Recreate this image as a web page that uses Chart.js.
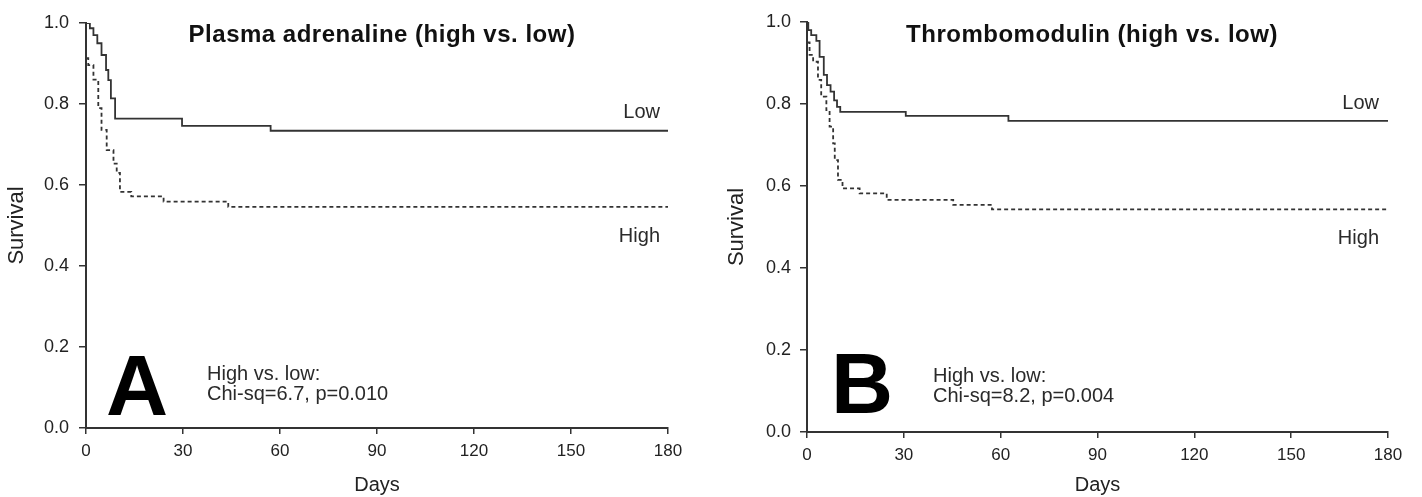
<!DOCTYPE html>
<html>
<head>
<meta charset="utf-8">
<title>Survival: plasma adrenaline / thrombomodulin</title>
<script src="https://cdn.jsdelivr.net/npm/chart.js@4.4.1/dist/chart.umd.min.js"></script>
<style>
  html, body { margin: 0; padding: 0; background: #fff; }
  #wrap { position: relative; width: 1422px; height: 497px; overflow: hidden; }
  canvas { position: absolute; top: 0; }
  #chartA { left: 0; }
  #chartB { left: 711px; }
</style>
</head>
<body>
<div id="wrap">
  <canvas id="chartA" width="711" height="497"></canvas>
  <canvas id="chartB" width="711" height="497"></canvas>
</div>
<script>
// -------------------------------------------------------------
// DATA
// -------------------------------------------------------------
const dayTicks = [0, 30, 60, 90, 120, 150, 180];
const survivalTicks = [0.0, 0.2, 0.4, 0.6, 0.8, 1.0];

// Panel A - plasma adrenaline
const adrenalineLowDays  = [0, 1.2, 2.3, 3.5, 4.8, 6.2, 6.9, 7.7, 9.0, 29.7, 57.1, 180];
const adrenalineLowSurv  = [1.0, 0.987, 0.97, 0.95, 0.921, 0.884, 0.859, 0.814, 0.764, 0.746, 0.734, 0.734];
const adrenalineHighDays = [0, 0.7, 2.3, 3.8, 4.8, 6.4, 8.5, 9.5, 10.5, 14, 24, 44, 180];
const adrenalineHighSurv = [0.913, 0.896, 0.86, 0.79, 0.736, 0.686, 0.653, 0.63, 0.583, 0.572, 0.559, 0.546, 0.546];

// Panel B - thrombomodulin
const thromboLowDays  = [0, 0.4, 1.3, 2.9, 3.9, 5.2, 6.2, 7.3, 8.4, 9.3, 10.3, 30.6, 62.4, 180];
const thromboLowSurv  = [1.0, 0.98, 0.968, 0.954, 0.915, 0.871, 0.846, 0.83, 0.809, 0.793, 0.781, 0.771, 0.759, 0.759];
const thromboHighDays = [0, 0.8, 1.9, 3.4, 4.4, 6.0, 7.0, 8.1, 8.6, 9.6, 11, 16.3, 24.7, 45.3, 57.3, 180];
const thromboHighSurv = [0.95, 0.92, 0.903, 0.859, 0.818, 0.785, 0.745, 0.704, 0.663, 0.615, 0.594, 0.582, 0.566, 0.554, 0.543, 0.543];

const FONT = '"Liberation Sans", Arial, sans-serif';
const INK = '#333';

function toPoints(days, surv) {
    return days.map((d, i) => ({ x: d, y: surv[i] }));
}

// -------------------------------------------------------------
// Text drawn inside the plot (title, curve labels, stats, letter)
// -------------------------------------------------------------
const panelText = {
    id: 'panelText',
    afterDraw(chart, args, o) {
        const ctx = chart.ctx;
        ctx.save();
        ctx.fillStyle = '#111';

        ctx.font = 'bold 24px ' + FONT;
        ctx.letterSpacing = '0.5px';
        ctx.textAlign = 'center';
        ctx.textBaseline = 'middle';
        ctx.fillText(o.title, o.titleX, o.titleY);
        ctx.letterSpacing = '0px';

        ctx.fillStyle = '#2a2a2a';
        ctx.font = '20px ' + FONT;
        ctx.textAlign = 'right';
        ctx.fillText('Low', o.labelRight, o.lowY);
        ctx.fillText('High', o.labelRight, o.highY);

        ctx.textAlign = 'left';
        ctx.textBaseline = 'alphabetic';
        ctx.fillText('High vs. low:', o.statX, o.statY);
        ctx.fillText(o.stat, o.statX, o.statY + 20);

        ctx.fillStyle = '#000';
        ctx.font = 'bold 86px ' + FONT;
        ctx.fillText(o.letter, o.letterX, o.letterY);
        ctx.restore();
    }
};

// -------------------------------------------------------------
// Build one Kaplan-Meier panel
// -------------------------------------------------------------
function makePanel(canvasId, low, high, box, text) {
    const ctx = document.getElementById(canvasId).getContext('2d');
    const line = {
        stepped: 'before',
        borderColor: INK,
        borderWidth: 1.8,
        pointRadius: 0,
        fill: false
    };
    return new Chart(ctx, {
        type: 'line',
        data: {
            datasets: [
                Object.assign({ label: 'Low', data: low }, line),
                Object.assign({ label: 'High', data: high, borderDash: [4, 3], borderWidth: 2 }, line)
            ]
        },
        options: {
            responsive: false,
            devicePixelRatio: 1,
            animation: false,
            layout: { padding: { left: 0, right: box.right, top: box.top, bottom: 0 } },
            scales: {
                x: {
                    type: 'linear',
                    min: 0,
                    max: 180,
                    afterBuildTicks: s => { s.ticks = dayTicks.map(v => ({ value: v })); },
                    afterFit: s => { s.height = box.xHeight; },
                    grid: { drawOnChartArea: false, drawTicks: true, tickLength: 6, color: INK, lineWidth: 1.5 },
                    border: { display: true, color: INK, width: 2 },
                    ticks: { color: '#222', font: { family: FONT, size: 17 }, padding: 7, maxRotation: 0 },
                    title: { display: true, text: 'Days', color: '#222', font: { family: FONT, size: 20 }, padding: { top: 0, bottom: 0 } }
                },
                y: {
                    min: 0,
                    max: 1,
                    afterBuildTicks: s => { s.ticks = survivalTicks.map(v => ({ value: v })); },
                    afterFit: s => { s.width = box.yWidth; },
                    grid: { drawOnChartArea: false, drawTicks: true, tickLength: 7, color: INK, lineWidth: 1.5 },
                    border: { display: true, color: INK, width: 2 },
                    ticks: { color: '#222', font: { family: FONT, size: 18 }, padding: box.yPad, callback: v => v.toFixed(1) },
                    title: { display: true, text: 'Survival', color: '#222', font: { family: FONT, size: 22 }, padding: { top: box.titlePad, bottom: 0 } }
                }
            },
            plugins: {
                legend: { display: false },
                tooltip: { enabled: false },
                panelText: text
            }
        },
        plugins: [panelText]
    });
}

makePanel('chartA',
    toPoints(adrenalineLowDays, adrenalineLowSurv),
    toPoints(adrenalineHighDays, adrenalineHighSurv),
    { right: 43, top: 23, xHeight: 69, yWidth: 86, yPad: 10, titlePad: 4 },
    { title: 'Plasma adrenaline (high vs. low)', titleX: 382, titleY: 35,
      labelRight: 660, lowY: 112, highY: 236,
      stat: 'Chi-sq=6.7, p=0.010', statX: 207, statY: 380,
      letter: 'A', letterX: 106, letterY: 415 });

makePanel('chartB',
    toPoints(thromboLowDays, thromboLowSurv),
    toPoints(thromboHighDays, thromboHighSurv),
    { right: 34, top: 22, xHeight: 65, yWidth: 96, yPad: 9, titlePad: 13 },
    { title: 'Thrombomodulin (high vs. low)', titleX: 381, titleY: 35,
      labelRight: 668, lowY: 103, highY: 238,
      stat: 'Chi-sq=8.2, p=0.004', statX: 222, statY: 382,
      letter: 'B', letterX: 120, letterY: 413 });
</script>
</body>
</html>
